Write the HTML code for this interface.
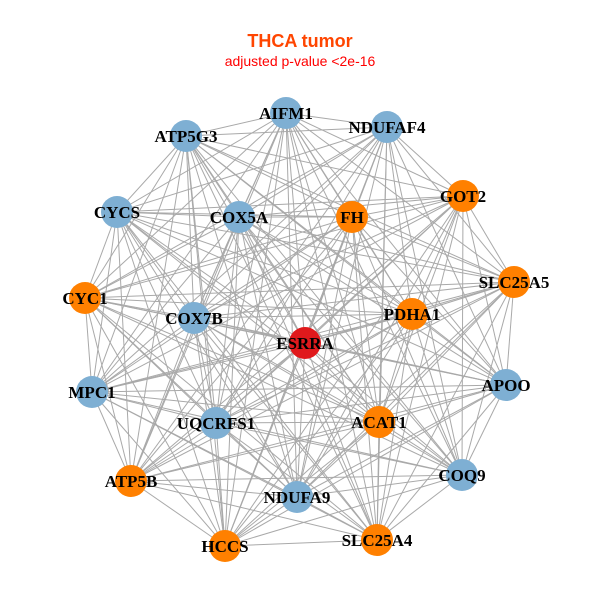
<!DOCTYPE html>
<html><head><meta charset="utf-8"><style>
html,body{margin:0;padding:0;background:#fff;width:600px;height:600px;overflow:hidden}
</style></head><body>
<svg id="s" width="600" height="600" xmlns="http://www.w3.org/2000/svg">
<text x="300" y="47" text-anchor="middle" font-family="Liberation Sans, sans-serif" font-weight="bold" font-size="18" fill="#FF4500">THCA tumor</text>
<text x="300" y="66" text-anchor="middle" font-family="Liberation Sans, sans-serif" font-size="14" fill="#FF0000">adjusted p-value &lt;2e-16</text>
<g id="e" stroke="#A9A9A9" stroke-width="1"></g>
<g id="n"></g>
</svg>
<script>
var N=[["AIFM1",286,113,"b"],["NDUFAF4",387,127,"b"],["ATP5G3",186,136,"b"],["GOT2",463,196,"o"],["CYCS",117,212,"b"],["COX5A",239,217,"b"],["FH",352,217,"o"],["SLC25A5",514,282,"o"],["CYC1",85,298,"o"],["PDHA1",412,314,"o"],["COX7B",194,318,"b"],["ESRRA",305,343,"r"],["APOO",506,385,"b"],["MPC1",92,392,"b"],["UQCRFS1",216,423,"b"],["ACAT1",379,422,"o"],["COQ9",462,475,"b"],["ATP5B",131,481,"o"],["NDUFA9",297,497,"b"],["HCCS",225,546,"o"],["SLC25A4",377,540,"o"]];
var C={b:"#7EAFD3",o:"#FF8000",r:"#E0191C"};
var ns="http://www.w3.org/2000/svg",e=document.getElementById("e"),g=document.getElementById("n");
for(var i=0;i<N.length;i++)for(var j=i+1;j<N.length;j++){var l=document.createElementNS(ns,"line");l.setAttribute("x1",N[i][1]);l.setAttribute("y1",N[i][2]);l.setAttribute("x2",N[j][1]);l.setAttribute("y2",N[j][2]);e.appendChild(l);}
N.forEach(function(d){var c=document.createElementNS(ns,"circle");c.setAttribute("cx",d[1]);c.setAttribute("cy",d[2]);c.setAttribute("r",16);c.setAttribute("fill",C[d[3]]);g.appendChild(c);});
N.forEach(function(d){var t=document.createElementNS(ns,"text");t.setAttribute("x",d[1]);t.setAttribute("y",d[2]+6);t.setAttribute("text-anchor","middle");t.setAttribute("font-family","Liberation Serif, serif");t.setAttribute("font-weight","bold");t.setAttribute("font-size","17");t.textContent=d[0];g.appendChild(t);});
</script>
</body></html>
